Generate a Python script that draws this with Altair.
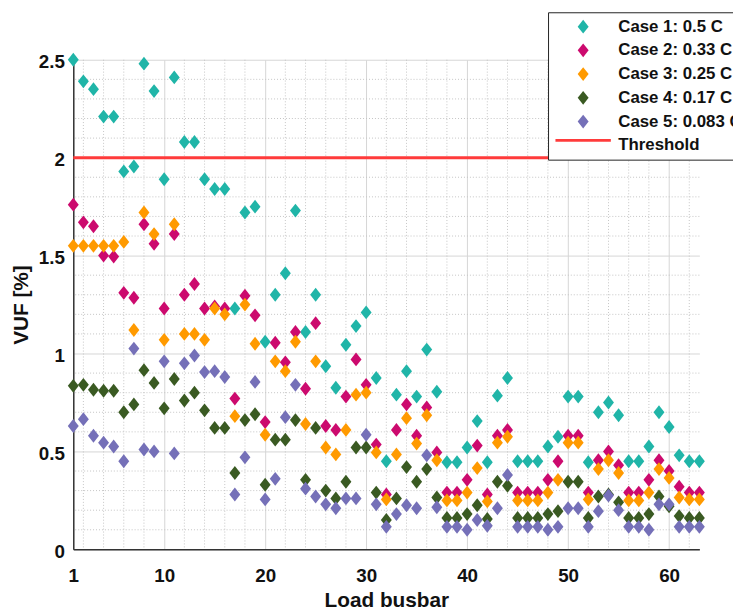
import altair as alt
import pandas as pd

busbar = list(range(1, 64))

case1 = [2.50, 2.39, 2.35, 2.21, 2.21, 1.93, 1.955, 2.48, 2.34, 1.89,
         2.41, 2.08, 2.08, 1.89, 1.84, 1.84, 1.23, 1.72, 1.75, 1.06,
         1.30, 1.41, 1.73, 1.11, 1.30, 0.935, 0.825, 1.045, 1.14, 1.21,
         0.875, 0.45, 0.79, 0.91, 0.78, 1.02, 0.805, 0.445, 0.445, 0.52,
         0.655, 0.445, 0.785, 0.875, 0.45, 0.45, 0.45, 0.525, 0.575, 0.78,
         0.78, 0.445, 0.70, 0.75, 0.685, 0.45, 0.45, 0.525, 0.70, 0.625,
         0.48, 0.45, 0.45]
case2 = [1.76, 1.67, 1.65, 1.50, 1.495, 1.31, 1.285, 1.66, 1.56, 1.23,
         1.61, 1.30, 1.355, 1.23, 1.24, 1.23, 0.77, 1.295, 1.195, 0.65,
         1.055, 0.955, 1.11, 0.82, 1.155, 0.63, 0.61, 0.78, 0.97, 0.84,
         0.535, 0.28, 0.61, 0.74, 0.58, 0.725, 0.495, 0.29, 0.29, 0.355,
         0.53, 0.28, 0.58, 0.61, 0.29, 0.29, 0.29, 0.355, 0.45, 0.58,
         0.58, 0.29, 0.455, 0.50, 0.43, 0.29, 0.29, 0.355, 0.455, 0.40,
         0.32, 0.29, 0.29]
case3 = [1.55, 1.55, 1.55, 1.55, 1.55, 1.57, 1.12, 1.72, 1.61, 1.07,
         1.66, 1.10, 1.10, 1.07, 1.23, 1.20, 0.68, 1.25, 1.05, 0.585,
         0.96, 0.91, 1.06, 0.64, 0.96, 0.52, 0.485, 0.61, 0.79, 0.80,
         0.495, 0.255, 0.485, 0.67, 0.54, 0.685, 0.455, 0.25, 0.25, 0.29,
         0.415, 0.245, 0.545, 0.575, 0.25, 0.25, 0.25, 0.29, 0.355, 0.545,
         0.545, 0.255, 0.41, 0.455, 0.39, 0.25, 0.25, 0.29, 0.41, 0.365,
         0.265, 0.255, 0.255]
case4 = [0.835, 0.84, 0.815, 0.81, 0.81, 0.70, 0.74, 0.915, 0.85, 0.72,
         0.87, 0.76, 0.80, 0.71, 0.62, 0.62, 0.39, 0.66, 0.69, 0.33,
         0.56, 0.56, 0.66, 0.355, 0.62, 0.30, 0.26, 0.345, 0.52, 0.52,
         0.29, 0.15, 0.26, 0.42, 0.345, 0.41, 0.265, 0.16, 0.16, 0.18,
         0.225, 0.155, 0.345, 0.325, 0.16, 0.16, 0.16, 0.18, 0.195, 0.345,
         0.345, 0.16, 0.27, 0.28, 0.24, 0.16, 0.16, 0.18, 0.27, 0.22,
         0.17, 0.16, 0.16]
case5 = [0.63, 0.665, 0.58, 0.545, 0.525, 0.45, 1.025, 0.51, 0.50, 0.96,
         0.49, 0.95, 0.99, 0.905, 0.91, 0.88, 0.28, 0.47, 0.855, 0.255,
         0.36, 0.675, 0.84, 0.31, 0.27, 0.23, 0.21, 0.26, 0.26, 0.585,
         0.23, 0.115, 0.18, 0.225, 0.21, 0.48, 0.215, 0.115, 0.115, 0.10,
         0.15, 0.12, 0.21, 0.38, 0.115, 0.115, 0.115, 0.10, 0.115, 0.21,
         0.21, 0.115, 0.195, 0.275, 0.20, 0.115, 0.115, 0.10, 0.23, 0.23,
         0.115, 0.115, 0.115]

labels = ["Case 1: 0.5 C", "Case 2: 0.33 C", "Case 3: 0.25 C",
          "Case 4: 0.17 C", "Case 5: 0.083 C"]
threshold_label = "Threshold"
threshold_value = [2.0]
colors = ["#20b5a8", "#cc0a6e", "#ff9a00", "#3a5a22", "#7570b8"]
red = "#ff3b3b"

x_major = [1, 10, 20, 30, 40, 50, 60]
x_minor = [v for v in range(2, 63, 2) if v % 10 != 0]
y_major = [0, 0.5, 1, 1.5, 2, 2.5]
y_minor = [round(0.1 * i, 1) for i in range(1, 25) if i % 5 != 0]

series = [case1, case2, case3, case4, case5]
rows = []
for lab, vals in zip(labels, series):
    for b, v in zip(busbar, vals):
        rows.append({"busbar": b, "vuf": v, "series": lab})
df = pd.DataFrame(rows)
thr = pd.DataFrame({"vuf": threshold_value, "thr": [threshold_label]})
xm = pd.DataFrame({"busbar": x_minor})
ym = pd.DataFrame({"vuf": y_minor})

DIAMOND = "M-0.79,0L0,-1L0.79,0L0,1Z"
FONT = "Liberation Sans"
XT = "Load busbar"
YT = "VUF [%]"

xscale = alt.Scale(domain=[1, 63], nice=False, zero=False)
yscale = alt.Scale(domain=[0, 2.5], nice=False)

xaxis = alt.Axis(
    values=x_major,
    format="d",
    labelOverlap=False,
    ticks=False,
    grid=True,
    gridColor="#d6d6d6",
    gridWidth=1,
    labelPadding=17,
    titlePadding=5,
    labelFlush=False,
)
yaxis = alt.Axis(
    values=y_major,
    format="~g",
    labelOverlap=False,
    ticks=False,
    grid=True,
    gridColor="#d6d6d6",
    gridWidth=1,
    labelPadding=9,
    labelOffset=2,
    titlePadding=7,
)

legend = alt.Legend(
    title=None,
    orient="none",
    legendX=480,
    legendY=-48,
    labelFont=FONT,
    labelFontWeight="bold",
    labelFontSize=17,
    labelColor="#111111",
    symbolType=DIAMOND,
    symbolSize=196,
    symbolOffset=21,
    labelOffset=27,
    symbolStrokeWidth=0,
    symbolOpacity=1,
    padding=6,
    rowPadding=6,
    fillColor="white",
    strokeColor="#222222",
    zindex=1,
)

thr_legend = alt.Legend(
    title=None,
    orient="none",
    legendX=486,
    legendY=52,
    symbolType="stroke",
    symbolSize=3136,
    symbolStrokeColor=red,
    symbolStrokeWidth=3,
    labelExpr="''",
    padding=0,
    zindex=2,
)

minor_x = alt.Chart(xm).mark_rule(color="#c4c4c4", strokeDash=[1, 2], strokeWidth=1).encode(
    x=alt.X("busbar:Q", title=XT, scale=xscale),
)
minor_y = alt.Chart(ym).mark_rule(color="#c4c4c4", strokeDash=[1, 2], strokeWidth=1).encode(
    y=alt.Y("vuf:Q", title=YT, scale=yscale),
)

points = alt.Chart(df).mark_point(
    filled=True, opacity=1, size=196, shape=DIAMOND, strokeWidth=0
).encode(
    x=alt.X("busbar:Q", title=XT, scale=xscale, axis=xaxis),
    y=alt.Y("vuf:Q", title=YT, scale=yscale, axis=yaxis),
    color=alt.Color("series:N",
                    scale=alt.Scale(domain=labels + [threshold_label],
                                    range=colors + ["rgba(0,0,0,0)"]),
                    legend=legend),
)

rule = alt.Chart(thr).mark_rule(strokeWidth=3, color=red).encode(
    y=alt.Y("vuf:Q", title=YT),
    strokeDash=alt.StrokeDash("thr:N", scale=alt.Scale(domain=[threshold_label], range=[[1, 0]]),
                              legend=thr_legend),
)

chart = alt.layer(minor_x, minor_y, points, rule).properties(
    width=633, height=495,
    padding={"left": 66, "top": 49, "right": 34, "bottom": 60},
    autosize=alt.AutoSizeParams(type="none"),
).configure_view(stroke=None).configure_axis(
    labelFont=FONT, labelFontWeight="bold", labelFontSize=19, labelColor="#111111",
    titleFont=FONT, titleFontWeight="bold", titleFontSize=21, titleColor="#111111",
    domainColor="#333333", domainWidth=1.5,
)

chart.save("out.html", embed_options={"renderer": "svg", "actions": False})
